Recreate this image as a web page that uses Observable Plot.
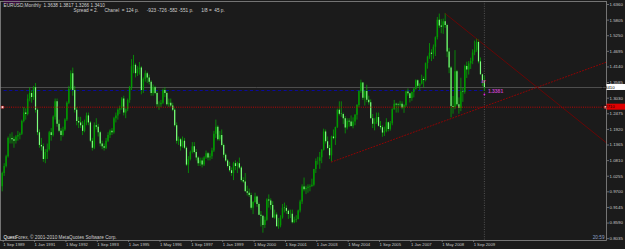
<!DOCTYPE html>
<html><head><meta charset="utf-8">
<script src="https://cdn.jsdelivr.net/npm/d3@7"></script>
<script src="https://cdn.jsdelivr.net/npm/@observablehq/plot@0.6"></script>
<style>
html,body{margin:0;padding:0;background:#1b1b1b;}
#chart{width:625px;height:249px;overflow:hidden;position:relative}
</style></head><body><div id="chart"></div>
<script>
// EURUSD monthly, Sep 1989 .. Mar 2010 (bar index 0 = Sep 1989)
const open = [
0.988,1.035,1.060,1.095,
1.160,1.160,1.155,1.150,1.165,1.170,1.175,1.220,1.250,1.245,1.300,1.320,
1.305,1.340,1.260,1.180,1.135,1.130,1.085,1.110,1.120,1.180,1.170,1.235,
1.290,1.210,1.185,1.170,1.190,1.225,1.285,1.335,1.390,1.330,1.260,1.220,
1.215,1.205,1.185,1.215,1.240,1.215,1.150,1.125,1.205,1.200,1.180,1.140,
1.130,1.125,1.150,1.170,1.185,1.180,1.230,1.240,1.260,1.265,1.300,1.250,
1.262,1.295,1.340,1.415,1.420,1.390,1.405,1.410,1.330,1.370,1.390,1.375,
1.360,1.320,1.340,1.320,1.280,1.280,1.285,1.330,1.320,1.280,1.285,1.275,
1.260,1.205,1.150,1.155,1.130,1.150,1.125,1.065,1.085,1.110,1.130,1.110,
1.090,1.070,1.080,1.065,1.090,1.105,1.090,1.095,1.115,1.175,1.200,1.155,
1.170,1.135,1.100,1.080,1.060,1.045,1.035,1.070,1.060,1.070,1.055,1.010,
1.005,0.970,0.965,0.957,0.912,0.932,0.952,0.925,0.887,0.883,0.850,0.869,
0.941,0.937,0.921,0.877,0.888,0.846,0.849,0.877,0.912,0.911,0.901,0.889,
0.890,0.860,0.869,0.872,0.902,0.934,0.987,0.977,0.982,0.986,0.989,0.993,
1.049,1.078,1.078,1.091,1.118,1.183,1.148,1.124,1.098,1.165,1.159,1.199,
1.260,1.246,1.245,1.230,1.197,1.221,1.218,1.202,1.218,1.242,1.277,1.327,
1.357,1.303,1.327,1.296,1.287,1.230,1.210,1.216,1.234,1.203,1.198,1.179,
1.184,1.216,1.192,1.212,1.262,1.281,1.279,1.277,1.281,1.268,1.276,1.325,
1.319,1.302,1.323,1.335,1.365,1.345,1.353,1.369,1.366,1.426,1.449,1.463,
1.459,1.484,1.518,1.580,1.560,1.555,1.575,1.561,1.467,1.410,1.273,1.270,
1.397,1.280,1.266,1.325,1.323,1.416,1.403,1.425,1.434,1.464,1.472,1.501,
1.432,1.386,1.3638];
const high = [
1.040,1.070,1.100,1.165,
1.175,1.180,1.165,1.170,1.185,1.180,1.225,1.270,1.265,1.315,1.340,1.330,
1.345,1.355,1.265,1.190,1.160,1.140,1.120,1.140,1.185,1.195,1.240,1.300,
1.300,1.225,1.195,1.200,1.230,1.290,1.345,1.400,1.410,1.345,1.270,1.235,
1.235,1.220,1.225,1.250,1.250,1.220,1.160,1.215,1.230,1.210,1.185,1.150,
1.140,1.160,1.180,1.190,1.195,1.235,1.250,1.265,1.275,1.305,1.310,1.265,
1.300,1.345,1.440,1.455,1.425,1.415,1.430,1.415,1.375,1.400,1.395,1.385,
1.365,1.350,1.345,1.325,1.290,1.295,1.335,1.340,1.325,1.300,1.300,1.285,
1.265,1.215,1.165,1.160,1.165,1.160,1.130,1.095,1.115,1.145,1.145,1.120,
1.095,1.090,1.090,1.095,1.115,1.110,1.105,1.125,1.185,1.225,1.205,1.185,
1.190,1.140,1.105,1.085,1.075,1.055,1.075,1.080,1.075,1.090,1.060,1.020,
1.035,0.990,0.980,0.965,0.935,0.965,0.955,0.930,0.900,0.885,0.880,0.945,
0.959,0.945,0.935,0.905,0.895,0.875,0.885,0.925,0.930,0.920,0.905,0.905,
0.905,0.880,0.885,0.905,0.940,0.995,1.019,0.990,0.995,0.995,1.015,1.050,
1.087,1.093,1.110,1.120,1.193,1.190,1.165,1.135,1.168,1.190,1.200,1.264,
1.290,1.290,1.250,1.238,1.230,1.230,1.240,1.233,1.245,1.280,1.330,1.367,
1.358,1.330,1.349,1.310,1.297,1.245,1.230,1.250,1.250,1.220,1.205,1.200,
1.230,1.218,1.220,1.265,1.295,1.285,1.285,1.292,1.290,1.280,1.328,1.336,
1.320,1.325,1.338,1.368,1.368,1.354,1.385,1.378,1.428,1.452,1.497,1.475,
1.492,1.521,1.590,1.602,1.583,1.584,1.604,1.566,1.480,1.415,1.309,1.472,
1.402,1.304,1.374,1.338,1.420,1.431,1.433,1.445,1.475,1.506,1.514,1.510,
1.446,1.388,1.3817];
const low = [
0.970,1.025,1.055,1.090,
1.140,1.140,1.125,1.140,1.150,1.155,1.170,1.215,1.225,1.240,1.290,1.285,
1.295,1.250,1.170,1.125,1.115,1.075,1.070,1.085,1.115,1.150,1.165,1.225,
1.200,1.180,1.150,1.165,1.185,1.220,1.280,1.330,1.310,1.250,1.205,1.195,
1.195,1.170,1.180,1.205,1.205,1.145,1.115,1.120,1.190,1.165,1.130,1.120,
1.115,1.120,1.145,1.160,1.170,1.175,1.215,1.225,1.245,1.260,1.240,1.230,
1.255,1.285,1.330,1.390,1.375,1.380,1.385,1.315,1.320,1.360,1.355,1.350,
1.310,1.310,1.315,1.270,1.260,1.270,1.280,1.305,1.275,1.270,1.270,1.255,
1.200,1.140,1.135,1.115,1.125,1.120,1.060,1.035,1.080,1.105,1.105,1.080,
1.060,1.060,1.055,1.060,1.085,1.080,1.080,1.085,1.110,1.160,1.150,1.150,
1.130,1.090,1.075,1.055,1.040,1.025,1.010,1.045,1.035,1.050,1.005,1.000,
0.970,0.955,0.950,0.905,0.889,0.930,0.915,0.885,0.845,0.823,0.840,0.865,
0.912,0.905,0.875,0.873,0.845,0.837,0.842,0.873,0.895,0.890,0.872,0.875,
0.856,0.857,0.860,0.870,0.895,0.925,0.970,0.960,0.965,0.970,0.985,0.988,
1.035,1.065,1.050,1.070,1.115,1.140,1.120,1.085,1.076,1.155,1.135,1.195,
1.240,1.235,1.209,1.176,1.190,1.200,1.200,1.194,1.205,1.225,1.270,1.320,
1.295,1.275,1.287,1.278,1.230,1.195,1.187,1.210,1.200,1.190,1.164,1.167,
1.180,1.183,1.186,1.205,1.260,1.250,1.250,1.271,1.262,1.249,1.270,1.310,
1.286,1.292,1.304,1.332,1.339,1.329,1.350,1.339,1.361,1.406,1.441,1.433,
1.441,1.451,1.510,1.551,1.532,1.530,1.551,1.447,1.390,1.233,1.246,1.262,
1.274,1.246,1.255,1.288,1.317,1.373,1.385,1.405,1.422,1.454,1.466,1.425,
1.386,1.344,1.3266];
const close = [
1.035,1.060,1.095,1.160,
1.160,1.155,1.150,1.165,1.170,1.175,1.220,1.250,1.245,1.300,1.320,1.305,
1.340,1.260,1.180,1.135,1.130,1.085,1.110,1.120,1.180,1.170,1.235,1.290,
1.210,1.185,1.170,1.190,1.225,1.285,1.335,1.390,1.330,1.260,1.220,1.215,
1.205,1.185,1.215,1.240,1.215,1.150,1.125,1.205,1.200,1.180,1.140,1.130,
1.125,1.150,1.170,1.185,1.180,1.230,1.240,1.260,1.265,1.300,1.250,1.262,
1.295,1.340,1.415,1.420,1.390,1.405,1.410,1.330,1.370,1.390,1.375,1.360,
1.320,1.340,1.320,1.280,1.280,1.285,1.330,1.320,1.280,1.285,1.275,1.260,
1.205,1.150,1.155,1.130,1.150,1.125,1.065,1.085,1.110,1.130,1.110,1.090,
1.070,1.080,1.065,1.090,1.105,1.090,1.095,1.115,1.175,1.200,1.155,1.170,
1.135,1.100,1.080,1.060,1.045,1.035,1.070,1.060,1.070,1.055,1.010,1.005,
0.970,0.965,0.957,0.912,0.932,0.952,0.925,0.887,0.883,0.850,0.869,0.941,
0.937,0.921,0.877,0.888,0.846,0.849,0.877,0.912,0.911,0.901,0.889,0.890,
0.860,0.869,0.872,0.902,0.934,0.987,0.977,0.982,0.986,0.989,0.993,1.049,
1.078,1.078,1.091,1.118,1.183,1.148,1.124,1.098,1.165,1.159,1.199,1.260,
1.246,1.245,1.230,1.197,1.221,1.218,1.202,1.218,1.242,1.277,1.327,1.357,
1.303,1.327,1.296,1.287,1.230,1.210,1.216,1.234,1.203,1.198,1.179,1.184,
1.216,1.192,1.212,1.262,1.281,1.279,1.277,1.281,1.268,1.276,1.325,1.319,
1.302,1.323,1.335,1.365,1.345,1.353,1.369,1.366,1.426,1.449,1.463,1.459,
1.484,1.518,1.580,1.560,1.555,1.575,1.561,1.467,1.410,1.273,1.270,1.397,
1.280,1.266,1.325,1.323,1.416,1.403,1.425,1.434,1.464,1.472,1.501,1.432,
1.386,1.363,1.3410];

// axis ticks
const xTickIdx = [0,16,32,48,64,80,96,112,128,144,160,176,192,208,224,240];
const xTickLabels = ["1 Sep 1989","1 Jan 1991","1 May 1992","1 Sep 1993","1 Jan 1995","1 May 1996",
  "1 Sep 1997","1 Jan 1999","1 May 2000","1 Sep 2001","1 Jan 2003","1 May 2004","1 Sep 2005",
  "1 Jan 2007","1 May 2008","1 Sep 2009"];
const yTickVals = [1.6360,1.5805,1.5250,1.4695,1.4140,1.3585,1.3030,1.2475,1.1920,1.1365,1.0810,1.0255,0.9700,0.9145,0.8590,0.8035];
const yTickLabels = ["1.6360","1.5805","1.5250","1.4695","1.4140","1.3585","1.3030","1.2475","1.1920","1.1365","1.0810","1.0255","0.9700","0.9145","0.8590","0.8035"];

// overlays
const bidPrice = 1.3410;
const redLevel = 1.2710;
const redLevelLabel = "1.2710";
const blueLevel = {price: 1.3303, from: 1, to: 246};
const lastIdx = 246;
const trendDown = [{i: 226, p: 1.6038}, {i: 242, p: 1.5144}];   // Jul 2008 high -> Nov 2009 high
const trendUp   = [{i: 168, p: 1.0760}, {i: 230, p: 1.2330}];   // Sep 2003 low -> Oct 2008 low
const headerLine1 = "EURUSD,Monthly  1.3638 1.3817 1.3266 1.3410";
const headerLine2 = "Spread = 2.     Chanel  = 124 p.      -923 -726 -582 -551 p.      1/8 =  45 p.";
const footer = "Forex, © 2001-2010 MetaQuotes Software Corp.";
const footerBrand = "Quest";
const cornerText = "20:59";
const magentaLabel = "1.3381";
const magentaSmall = {text: "47", price: 1.3620};
const magentaDot = 1.3160;

const xMax = 308.3;
const bars = close.map((c, i) => ({i, o: open[i], h: high[i], l: low[i], c}));
const up = bars.filter(d => d.c >= d.o), dn = bars.filter(d => d.c < d.o);
function extend(t) {
  const s = (t[1].p - t[0].p) / (t[1].i - t[0].i);
  return [t[0], {i: xMax, p: t[0].p + s * (xMax - t[0].i)}];
}

const font = "Liberation Sans, Arial, sans-serif";
const chart = Plot.plot({
  width: 625, height: 249,
  marginLeft: 0, marginRight: 19, marginTop: 1, marginBottom: 9,
  style: {background: "#1b1b1b", fontFamily: font, overflow: "visible"},
  x: {domain: [-0.87, xMax], axis: null},
  y: {domain: [0.7970, 1.6467], axis: null},
  marks: [
    Plot.ruleY([bidPrice], {stroke: "#555555", strokeWidth: 0.9}),
    Plot.ruleY([blueLevel], {y: "price", x1: "from", x2: "to", stroke: "#0a0aa0", strokeWidth: 1, strokeDasharray: "3,2.6"}),
    Plot.ruleX([lastIdx], {stroke: "#6a6a6a", strokeWidth: 0.7, strokeDasharray: "1,1.4"}),
    Plot.ruleX(bars, {x: "i", y1: "l", y2: "h", stroke: "#00b400", strokeWidth: 0.7}),
    Plot.ruleX(up, {x: "i", y1: "o", y2: "c", stroke: "#009a00", strokeWidth: 1.5}),
    Plot.ruleX(dn, {x: "i", y1: "o", y2: "c", stroke: "#7dff7d", strokeWidth: 1.2}),
    Plot.ruleY([redLevel], {stroke: "#d00000", strokeWidth: 0.9, strokeDasharray: "1,1.2"}),
    Plot.line(extend(trendUp), {x: "i", y: "p", stroke: "#a00000", strokeWidth: 0.9, strokeDasharray: "1,2"}),
    Plot.line(extend(trendDown), {x: "i", y: "p", stroke: "#7a0000", strokeWidth: 0.8}),
    Plot.dot([redLevel], {y: d => d, frameAnchor: "left", dx: 2, symbol: "square", r: 1.3, fill: "#ffffff", stroke: "#d00000", strokeWidth: 0.5}),
    Plot.dot([redLevel], {y: d => d, frameAnchor: "right", dx: -1, symbol: "square", r: 1.3, fill: "#ffffff", stroke: "#d00000", strokeWidth: 0.5}),
    Plot.text([magentaLabel], {x: lastIdx, y: blueLevel.price, text: d => d, dx: 3.5, dy: 0.5, textAnchor: "start", fill: "#c040c0", fontSize: 5, fontWeight: "bold", className: "mlabel"}),
    Plot.text([magentaSmall], {x: lastIdx, y: "price", text: "text", dx: -1, fill: "#c040c0", fontSize: 4, fontWeight: "bold"}),
    Plot.dot([magentaDot], {x: lastIdx, y: d => d, r: 0.9, fill: "#e020e0"}),
    Plot.axisX(xTickIdx, {tickFormat: d => xTickLabels[xTickIdx.indexOf(d)], tickSize: 2, tickPadding: 1,
      textAnchor: "start", dx: 1, fontSize: 4.2, fill: "#c8c8c8", stroke: "#909090", strokeWidth: 0.7}),
    Plot.axisY(yTickVals, {anchor: "right", tickFormat: d => yTickLabels[yTickVals.indexOf(d)], tickSize: 2, tickPadding: 1,
      fontSize: 4.4, fill: "#c8c8c8", stroke: "#909090", strokeWidth: 0.7}),
    Plot.frame({stroke: "#8a8a8a", strokeWidth: 0.8}),
    Plot.text([headerLine1], {frameAnchor: "top-left", dx: 3, dy: 2.5, text: d => d, fill: "#d0d0d0", fontSize: 4.7}),
    Plot.text([headerLine2], {frameAnchor: "top-left", dx: 73, dy: 7.5, text: d => d, fill: "#d0d0d0", fontSize: 4.7}),
    Plot.text([footerBrand], {frameAnchor: "bottom-left", dx: 3, dy: -2, text: d => d, fill: "#ffffff", fontSize: 4.7, className: "brand"}),
    Plot.text([footer], {frameAnchor: "bottom-left", dx: 15, dy: -2, text: d => d, fill: "#d0d0d0", fontSize: 4.7}),
    Plot.text([cornerText], {frameAnchor: "bottom-right", dx: -2, dy: -2, textAnchor: "end", text: d => d, fill: "#8ea0c8", fontSize: 4.7})
  ]
});
document.getElementById("chart").appendChild(chart);

// price boxes on the right scale
const ys = chart.scale("y");
const svg = d3.select(chart);
function box(price, label, bg, fg) {
  const y = ys.apply(price);
  const g = svg.append("g");
  g.append("rect").attr("x", 606.5).attr("y", y - 3).attr("width", 18.5).attr("height", 6).attr("fill", bg);
  g.append("text").attr("x", 608).attr("y", y).attr("dy", "0.35em").attr("font-size", 4.4)
    .attr("font-family", font).attr("fill", fg).text(label);
}
box(bidPrice, "1.3410", "#ffffff", "#000000");
box(redLevel, redLevelLabel, "#e00000", "#200000");
// text highlights
function highlight(cls, color) {
  const t = svg.select("g." + cls + " text").node();
  if (!t) return;
  const bb = t.getBBox();
  svg.select("g." + cls).insert("rect", "text").attr("x", bb.x - 0.5).attr("y", bb.y).attr("width", bb.width + 1).attr("height", bb.height).attr("fill", color);
}
highlight("brand", "#1030ff");
highlight("mlabel", "#3a0a40");
</script></body></html>
